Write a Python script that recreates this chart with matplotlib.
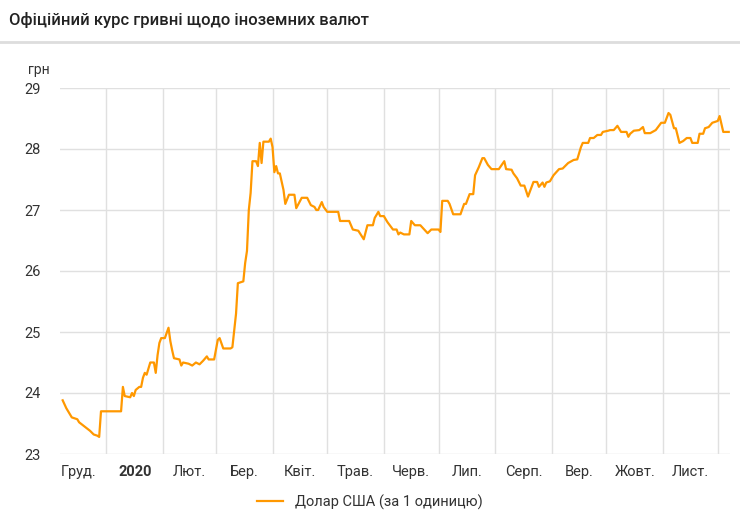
import numpy as np
import matplotlib
matplotlib.use("Agg")
import matplotlib.pyplot as plt
from matplotlib.lines import Line2D

plt.rcParams['font.family'] = ['Roboto', 'DejaVu Sans']

# days since 2020-01-01 and UAH per 1 USD
days = [-24, -22, -21, -19, -16, -15, -12, -9, -7, -5, -4, -3, 8, 9, 10, 13, 14, 15, 16, 18,
        19, 20, 21, 22, 24, 26, 27, 28, 29, 30, 32, 34, 35, 36, 37, 40, 41, 42, 45, 47,
        49, 51, 53, 55, 56, 59, 61, 62, 64, 68, 69, 71, 72, 75, 76, 77, 78, 79, 80, 82,
        83, 84, 85, 86, 89, 90, 91, 92, 93, 94, 95, 97, 98, 100, 103, 104, 107, 110, 112, 114,
        115, 116, 118, 119, 121, 127, 128, 133, 135, 138, 141, 143, 146, 147, 149, 150, 152, 154, 157, 159,
        160, 161, 163, 166, 167, 169, 172, 176, 178, 182, 183, 184, 187, 188, 190, 194, 196, 197, 199, 201,
        202, 204, 206, 207, 209, 211, 215, 218, 219, 222, 223, 225, 227, 229, 231, 234, 236, 237, 239, 240,
        241, 243, 245, 248, 250, 253, 256, 258, 260, 261, 264, 265, 267, 269, 271, 272, 275, 276, 278, 280,
        282, 285, 286, 287, 289, 292, 294, 295, 298, 301, 304, 306, 308, 309, 311, 312, 314, 316, 318, 320,
        321, 324, 325, 327, 328, 330, 332, 335, 336, 338, 341]
usd = [23.88, 23.75, 23.7, 23.6, 23.57, 23.52, 23.45, 23.38, 23.32, 23.3, 23.28, 23.7, 23.7, 24.1, 23.95, 23.93, 24.0, 23.95, 24.05, 24.1,
       24.1, 24.25, 24.33, 24.3, 24.5, 24.5, 24.33, 24.62, 24.82, 24.9, 24.9, 25.07, 24.85, 24.7, 24.57, 24.55, 24.45, 24.5, 24.48, 24.45,
       24.5, 24.47, 24.53, 24.6, 24.55, 24.55, 24.87, 24.9, 24.73, 24.73, 24.75, 25.3, 25.8, 25.83, 26.13, 26.33, 27.0, 27.28, 27.8, 27.8,
       27.72, 28.1, 27.77, 28.12, 28.12, 28.17, 28.03, 27.62, 27.72, 27.6, 27.6, 27.33, 27.1, 27.25, 27.25, 27.03, 27.2, 27.2, 27.08, 27.05,
       27.0, 27.0, 27.13, 27.05, 26.97, 26.97, 26.82, 26.82, 26.68, 26.66, 26.52, 26.75, 26.75, 26.87, 26.97, 26.9, 26.9, 26.8, 26.68, 26.68,
       26.6, 26.63, 26.6, 26.6, 26.82, 26.75, 26.75, 26.62, 26.68, 26.68, 26.64, 27.15, 27.15, 27.1, 26.93, 26.93, 27.1, 27.1, 27.26, 27.26,
       27.57, 27.7, 27.85, 27.85, 27.74, 27.67, 27.67, 27.8, 27.67, 27.66, 27.6, 27.52, 27.4, 27.4, 27.22, 27.46, 27.46, 27.38, 27.45, 27.38,
       27.45, 27.47, 27.57, 27.67, 27.68, 27.77, 27.82, 27.83, 28.03, 28.1, 28.1, 28.18, 28.18, 28.23, 28.23, 28.28, 28.3, 28.31, 28.31, 28.38,
       28.28, 28.28, 28.2, 28.25, 28.3, 28.31, 28.36, 28.26, 28.26, 28.31, 28.43, 28.43, 28.59, 28.56, 28.34, 28.34, 28.1, 28.13, 28.18, 28.18,
       28.1, 28.1, 28.25, 28.25, 28.34, 28.36, 28.43, 28.46, 28.54, 28.28, 28.28]

month_labels = ['Груд.', '2020', 'Лют.', 'Бер.', 'Квіт.', 'Трав.', 'Черв.', 'Лип.',
                'Серп.', 'Вер.', 'Жовт.', 'Лист.']

base = np.datetime64('2020-01-01')
bounds = (np.arange('2019-12', '2021-01', dtype='datetime64[M]').astype('datetime64[D]') - base).astype(int)
mids = (bounds[:-1] + bounds[1:]) / 2

fig = plt.figure(figsize=(7.4, 5.19), dpi=100)
ax = fig.add_axes([0.081, 1 - 454 / 519, 0.905, 366 / 519])

ax.plot(days, usd, color='#ff9800', lw=1.6)
ax.set_xlim(-25.5, 341.5)
ax.set_ylim(23, 29)
ax.set_yticks(range(23, 30))
ax.set_xticks(bounds[1:])
ax.set_xticklabels([])
ax.set_xticks(mids, minor=True)
ax.set_xticklabels(month_labels, minor=True)
for t in ax.get_xticklabels(minor=True):
    if t.get_text() == '2020':
        t.set_fontweight('bold')
ax.tick_params(which='both', length=0, labelsize=10.5, colors='#333333', pad=8)
ax.tick_params(axis='y', pad=14)
ax.grid(True, which='major', color='#e0e0e0', lw=1)
for s in ax.spines.values():
    s.set_visible(False)
ax.set_axisbelow(True)

fig.text(0.012, 1 - 20 / 519, 'Офіційний курс гривні щодо іноземних валют', fontsize=12,
         fontweight='medium', va='center', color='#222222')
fig.add_artist(Line2D([0, 1], [1 - 42 / 519] * 2, color='#dddddd', lw=2))
fig.text(28 / 740, 1 - 70 / 519, 'грн', fontsize=10, va='center', color='#333333')

h = Line2D([], [], color='#ff9800', lw=1.6)
fig.legend([h], ['Долар США (за 1 одиницю)'], loc='center', bbox_to_anchor=(0.5, 1 - 502 / 519),
           frameon=False, fontsize=10.5, handlelength=1.8, labelcolor='#333333')

fig.savefig('out.png', dpi=100)
